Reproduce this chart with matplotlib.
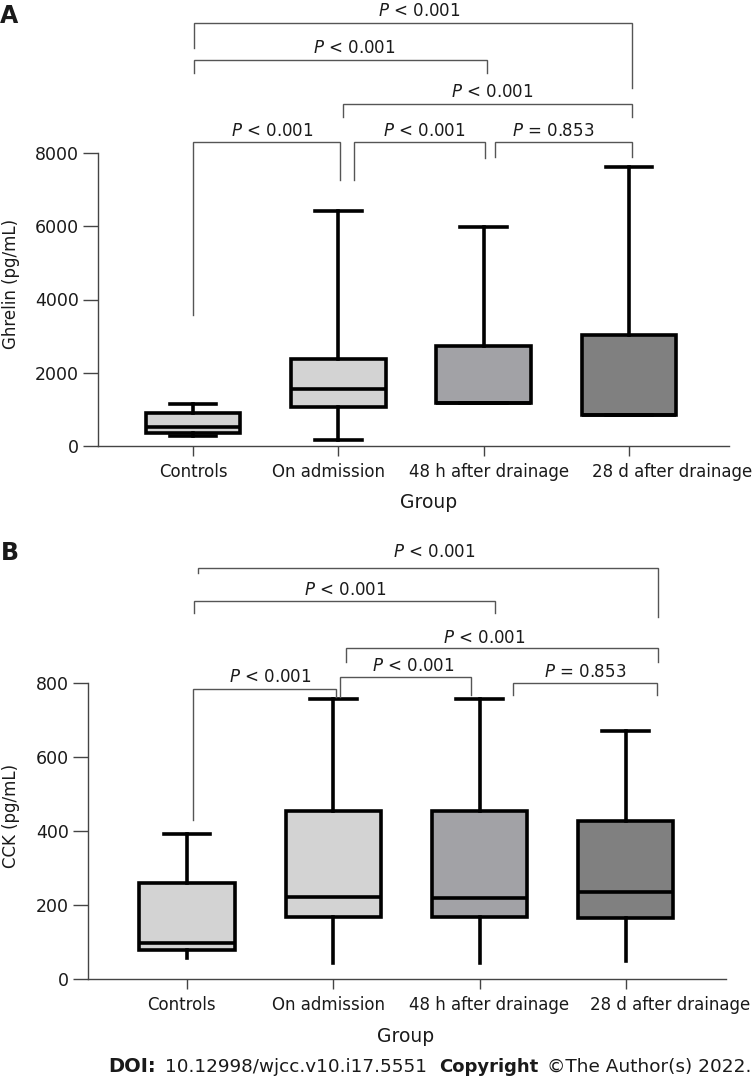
import matplotlib
matplotlib.use("Agg")
import matplotlib.pyplot as plt
from matplotlib.transforms import ScaledTranslation

plt.rcParams["font.family"] = ["DejaVu Sans"]
plt.rcParams["mathtext.fontset"] = "dejavusans"

# ---------------- data ----------------
groups = ["Controls", "On admission", "48 h after drainage", "28 d after drainage"]
fills = ["#d3d3d3", "#d3d3d3", "#a2a2a6", "#808080"]

ghrelin_min = [270, 160, 1180, 850]
ghrelin_q1 = [350, 1070, 1180, 850]
ghrelin_med = [530, 1560, 1180, 850]
ghrelin_q3 = [890, 2380, 2730, 3030]
ghrelin_max = [1140, 6420, 5980, 7620]
ghrelin_ticks = [0, 2000, 4000, 6000, 8000]

cck_min = [57, 43, 43, 49]
cck_q1 = [78, 168, 168, 165]
cck_med = [97, 222, 219, 235]
cck_q3 = [259, 454, 454, 427]
cck_max = [392, 757, 757, 670]
cck_ticks = [0, 200, 400, 600, 800]

# significance brackets: x1, x2, y, leg1 end, leg2 end, label, text x, text baseline
brackets_a = [
    (0.01, 3.02, 11550, 10867, 9775, "< 0.001", 1.555, 11741),
    (0.01, 2.02, 10539, 10184, 10184, "< 0.001", 1.108, 10730),
    (1.03, 3.02, 9338, 8983, 8983, "< 0.001", 2.057, 9529),
    (0.00, 1.01, 8300, 3577, 7263, "< 0.001", 0.544, 8464),
    (1.11, 2.01, 8300, 7263, 7863, "< 0.001", 1.590, 8464),
    (2.08, 3.02, 8300, 7891, 7891, "= 0.853", 2.480, 8464),
]
brackets_b = [
    (0.075, 3.22, 1111, 1097, 978, "< 0.001", 1.69, 1140),
    (0.048, 2.105, 1022, 989, 989, "< 0.001", 1.08, 1038),
    (1.087, 3.22, 895, 857, 857, "< 0.001", 2.03, 908),
    (1.046, 1.94, 816, 762, 768, "< 0.001", 1.55, 832),
    (0.041, 1.018, 784, 430, 762, "< 0.001", 0.567, 803),
    (2.228, 3.21, 800, 768, 768, "= 0.853", 2.72, 816),
]

W, H = 756, 1078
fig = plt.figure(figsize=(W / 100, H / 100), dpi=100)

def px_axes(left, right, top, bottom):
    return fig.add_axes([left / W, 1 - bottom / H, (right - left) / W, (bottom - top) / H])

TXT = "#1a1a1a"
LW = 2.6

def draw_panel(ax, mins, q1s, meds, q3s, maxs, yticks, ylabel, lower_caps,
               brackets, xlim, label_dx, xlabel_pos, ylabel_pos):
    stats = [dict(whislo=a, q1=b, med=c, q3=d, whishi=e, label=g)
             for a, b, c, d, e, g in zip(mins, q1s, meds, q3s, maxs, groups)]
    res = ax.bxp(stats, positions=range(len(groups)), widths=0.65, capwidths=0.32,
                 patch_artist=True, showfliers=False,
                 boxprops=dict(linewidth=LW, edgecolor="black"),
                 medianprops=dict(color="black", linewidth=LW, solid_capstyle="butt"),
                 whiskerprops=dict(color="black", linewidth=LW),
                 capprops=dict(color="black", linewidth=LW))
    for patch, c in zip(res["boxes"], fills):
        patch.set_facecolor(c)
        patch.set_joinstyle("miter")
    if not lower_caps:
        for i in range(len(groups)):
            res["caps"][2 * i].set_visible(False)
    ax.set_xlim(*xlim)
    ax.set_ylim(yticks[0], yticks[-1])
    ax.set_yticks(yticks)
    ax.set_yticklabels([str(t) for t in yticks])
    ax.set_xticks(range(len(groups)))
    ax.set_xticklabels(groups)
    for sp in ["top", "right"]:
        ax.spines[sp].set_visible(False)
    for sp in ["left", "bottom"]:
        ax.spines[sp].set_color("#444444")
        ax.spines[sp].set_linewidth(1.0)
    ax.tick_params(axis="y", length=10.8, width=1.0, color="#444444", pad=3,
                   labelsize=12.5, labelcolor=TXT)
    ax.tick_params(axis="x", length=7.2, width=1.0, color="#444444", pad=5,
                   labelsize=12, labelcolor=TXT)
    for lab, dx in zip(ax.get_xticklabels(), label_dx):
        lab.set_transform(lab.get_transform() + ScaledTranslation(dx / 100, 0, fig.dpi_scale_trans))
    ax.set_xlabel("Group", fontsize=13.5, color=TXT)
    ax.xaxis.set_label_coords(*xlabel_pos)
    ax.xaxis.label.set_va("center")
    ax.set_ylabel(ylabel, fontsize=12, color=TXT)
    ax.yaxis.set_label_coords(*ylabel_pos)
    ax.yaxis.label.set_va("center")
    for x1, x2, y, e1, e2, lab, tx, ty in brackets:
        ax.plot([x1, x1, x2, x2], [e1, y, y, e2], color="#555555", lw=1.0,
                clip_on=False, solid_joinstyle="miter")
        ax.text(tx, ty, r"$P$ " + lab, ha="center", va="baseline", fontsize=12,
                color=TXT, clip_on=False)

# Panel A
axA = px_axes(98, 729, 153, 446)
draw_panel(axA, ghrelin_min, ghrelin_q1, ghrelin_med, ghrelin_q3, ghrelin_max,
           ghrelin_ticks, "Ghrelin (pg/mL)", True, brackets_a,
           ((98 - 193) / 145.33, (729 - 193) / 145.33),
           [0, -10, 5, 43], ((429 - 98) / 631, (446 - 502) / 293),
           ((11 - 98) / 631, (446 - 284) / 293))

# Panel B
axB = px_axes(88, 726, 683, 979)
draw_panel(axB, cck_min, cck_q1, cck_med, cck_q3, cck_max,
           cck_ticks, "CCK (pg/mL)", False, brackets_b,
           ((88 - 187) / 146.3, (726 - 187) / 146.3),
           [-6, -5, 9, 44], ((406 - 88) / 638, (979 - 1037) / 296),
           ((11 - 88) / 638, (979 - 816) / 296))

fig.text(9 / W, 1 - 16 / H, "A", fontsize=17, fontweight="bold", ha="center", va="center", color=TXT)
fig.text(10 / W, 1 - 553 / H, "B", fontsize=17, fontweight="bold", ha="center", va="center", color=TXT)

# footer
pieces = [("DOI:", "bold", 108, 14), ("10.12998/wjcc.v10.i17.5551", "normal", 165, 13.2),
          ("Copyright", "bold", 439, 13), ("\u00a9The Author(s) 2022.", "normal", 547, 13.3)]
for s, w, x, fs in pieces:
    fig.text(x / W, 1 - 1072 / H, s, fontsize=fs, fontweight=w, ha="left",
             va="baseline", color=TXT)

fig.savefig("out.png", dpi=100, facecolor="white")
